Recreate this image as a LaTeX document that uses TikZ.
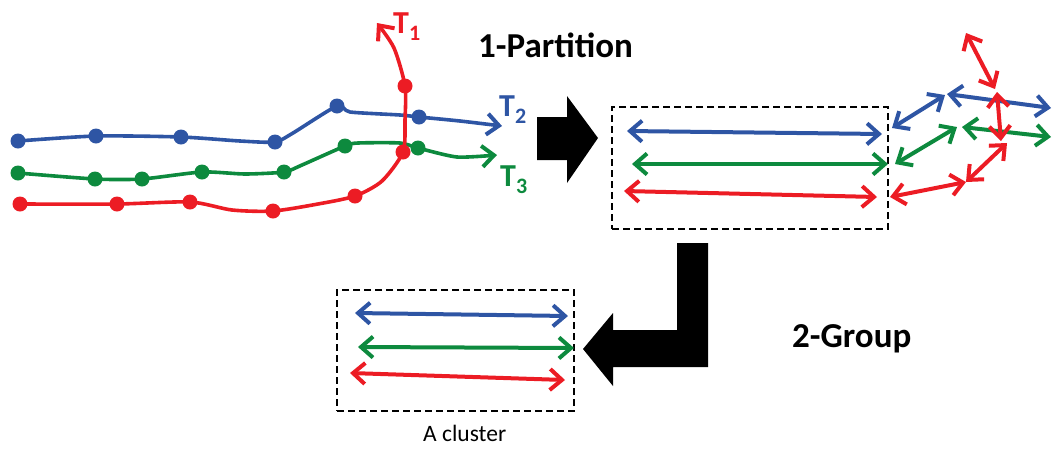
\documentclass[tikz,border=0pt]{standalone}
\usepackage{fontspec}
\setmainfont{Carlito}
\usetikzlibrary{arrows.meta}
\definecolor{tblue}{RGB}{46,85,164}
\definecolor{tgreen}{RGB}{13,138,62}
\definecolor{tred}{RGB}{236,28,36}
\tikzset{
  barb/.tip={Straight Barb[length=12pt,width=21pt,line width=4pt]},
  traj/.style={line width=3.6pt, line cap=round, line join=round},
  seg/.style={line width=4pt, {barb}-{barb}},
  dot/.style={circle, fill=#1, minimum size=15pt, inner sep=0pt},
  dbox/.style={draw, line width=2pt, dash pattern=on 7pt off 4pt},
  bigarrow/.style={fill=black},
  lab/.style={inner sep=0pt, font=\fontsize{35}{35}\selectfont\bfseries},
  tlab/.style={inner sep=0pt, font=\fontsize{32}{32}\selectfont\bfseries},
}
\newcommand\Tlab[1]{T\raisebox{-7pt}{\fontsize{22}{22}\selectfont #1}}
\begin{document}
\begin{tikzpicture}[x=1pt,y=-1pt]
\useasboundingbox (0,0) rectangle (1053,448);
% ---- trajectory coordinates
\coordinate (b1) at (18,141); \coordinate (b2) at (96,136); \coordinate (b3) at (181,137);
\coordinate (b4) at (275,142); \coordinate (b5) at (337,106); \coordinate (b6) at (419,117);
\coordinate (bend) at (502,126);
\coordinate (g1) at (18,173); \coordinate (g2) at (95,179); \coordinate (g3) at (142,179);
\coordinate (g4) at (202,172); \coordinate (g5) at (284,172); \coordinate (g6) at (345,146);
\coordinate (g7) at (418,148); \coordinate (gend) at (497,155);
\coordinate (r1) at (20,204); \coordinate (r2) at (117,204); \coordinate (r3) at (190,202);
\coordinate (r4) at (273,211); \coordinate (r5) at (355,196); \coordinate (r6) at (403,152);
\coordinate (r7) at (405,86); \coordinate (rend) at (377,23);
% ---- T2 (blue)
\draw[traj, tblue, -{barb}] plot[smooth, tension=0.4] coordinates
  {(b1) (b2) (b3) (240,141) (b4) (293,133) (b5) (350,112) (400,115) (b6) (460,121) (bend)};
% ---- T3 (green)
\draw[traj, tgreen, -{barb}] plot[smooth, tension=0.4] coordinates
  {(g1) (g2) (g3) (g4) (245,174) (g5) (302,165) (g6) (358,143) (400,143) (g7) (457,157) (gend)};
\foreach \p in {b1,b2,b3,b4,b5,b6} \node[dot=tblue] (d\p) at (\p) {};
\foreach \p in {g1,g2,g3,g4,g5,g6,g7} \node[dot=tgreen] (d\p) at (\p) {};
% ---- T1 (red)
\draw[traj, tred, -{barb}] plot[smooth, tension=0.45] coordinates
  {(r1) (r2) (r3) (232,210) (r4) (318,204) (r5) (382,181) (r6) (405,120) (r7) (394,48) (rend)};
\foreach \p in {r1,r2,r3,r4,r5,r6,r7} \node[dot=tred] (d\p) at (\p) {};
% ---- labels
\node[tlab, text=tred, anchor=base west] (T1) at (393,33) {\Tlab{1}};
\node[tlab, text=tblue, anchor=base west] (T2) at (499,116) {\Tlab{2}};
\node[tlab, text=tgreen, anchor=base west] (T3) at (500,186) {\Tlab{3}};
\node[lab, anchor=base west] (part) at (478,57) {1-Partition};
\node[lab, anchor=base west] (grp) at (792,347) {2-Group};
\node[inner sep=0pt, font=\fontsize{23.5}{23.5}\selectfont, anchor=base west] (clab) at (423,441) {A cluster};
% ---- big black arrows
\fill[bigarrow] (537,117) -- (567,117) -- (567,96) -- (598,138) -- (567,183) -- (567,160) -- (537,160) -- cycle;
\fill[bigarrow] (677,243) -- (708,243) -- (708,367) -- (613,367) -- (613,386) -- (583,349) -- (613,313) -- (613,330) -- (677,330) -- cycle;
% ---- partition box
\node[dbox, minimum width=276pt, minimum height=122pt, anchor=north west, inner sep=0pt] (box1) at (611,106) {};
\coordinate (pb1) at (627,131); \coordinate (pb2) at (882,134);
\coordinate (pg1) at (632,164); \coordinate (pg2) at (888,164);
\coordinate (pr1) at (624,191); \coordinate (pr2) at (877,197);
\draw[seg, tblue] (pb1) -- (pb2);
\draw[seg, tgreen] (pg1) -- (pg2);
\draw[seg, tred] (pr1) -- (pr2);
% ---- remaining segments right
\coordinate (qb1) at (892,128); \coordinate (qb2) at (945,95); \coordinate (qb3) at (947,94); \coordinate (qb4) at (1051,108);
\coordinate (qg1) at (895,164); \coordinate (qg2) at (957,127); \coordinate (qg3) at (962,127); \coordinate (qg4) at (1051,137);
\coordinate (qr1) at (890,197); \coordinate (qr2) at (966,182); \coordinate (qr3) at (1007,143);
\coordinate (qr4) at (1001,141); \coordinate (qr5) at (997,92); \coordinate (qr6) at (995,89); \coordinate (qr7) at (966,33);
\draw[seg, tblue] (qb1) -- (qb2);
\draw[seg, tblue] (qb3) -- (qb4);
\draw[seg, tgreen] (qg1) -- (qg2);
\draw[seg, tgreen] (qg3) -- (qg4);
\draw[seg, tred] (qr1) -- (qr2);
\draw[seg, tred] (qr2) -- (qr3);
\draw[seg, tred] (qr4) -- (qr5);
\draw[seg, tred] (qr6) -- (qr7);
% ---- cluster box
\node[dbox, minimum width=237pt, minimum height=121pt, anchor=north west, inner sep=0pt] (box2) at (336,289) {};
\coordinate (cb1) at (355,313); \coordinate (cb2) at (568,316);
\coordinate (cg1) at (358,347); \coordinate (cg2) at (574,348);
\coordinate (cr1) at (350,373); \coordinate (cr2) at (565,380);
\draw[seg, tblue] (cb1) -- (cb2);
\draw[seg, tgreen] (cg1) -- (cg2);
\draw[seg, tred] (cr1) -- (cr2);
\end{tikzpicture}
\end{document}
